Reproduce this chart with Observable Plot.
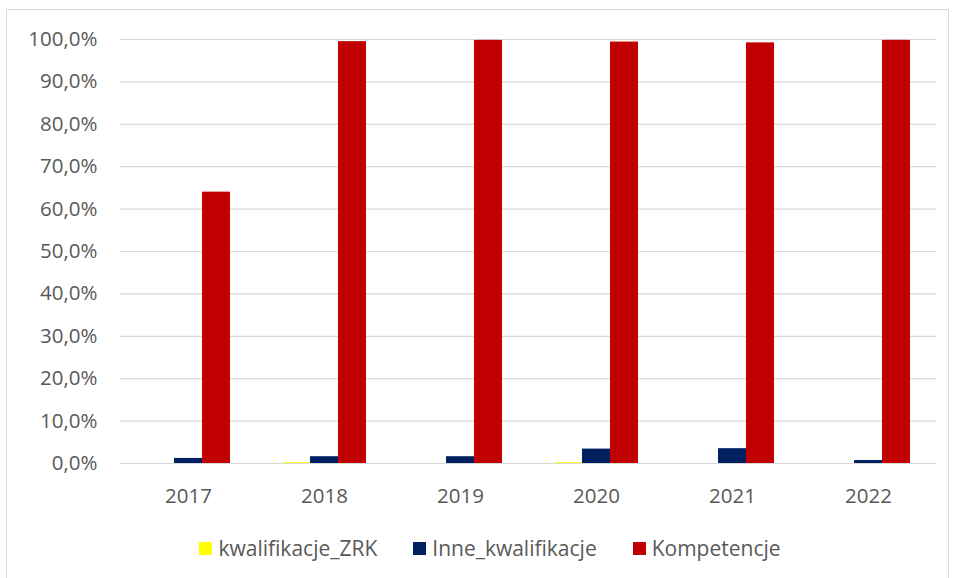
<!DOCTYPE html>
<html>
<head>
<meta charset="utf-8">
<script src="https://cdn.jsdelivr.net/npm/d3@7"></script>
<script src="https://cdn.jsdelivr.net/npm/@observablehq/plot@0.6"></script>
<style>
  html, body { margin: 0; padding: 0; background: #fff; }
  #wrap { position: relative; width: 954px; height: 578px; overflow: hidden; font-family: "Open Sans", sans-serif; }
  #frame { position: absolute; left: 6px; top: 9px; width: 943px; height: 600px; border: 1px solid #d9d9d9; box-sizing: border-box; }
  #chart { position: absolute; left: 0; top: 0; }
  #legend { position: absolute; top: 534px; left: 0; width: 980px; display: flex; justify-content: center; gap: 36px; font-size: 21px; color: #595959; line-height: 28px; }
  .item { display: flex; align-items: center; }
  .sw { width: 13px; height: 13px; margin-right: 6px; }
</style>
</head>
<body>
<div id="wrap">
  <div id="frame"></div>
  <div id="chart"></div>
  <div id="legend"></div>
</div>
<script>
const years = ["2017", "2018", "2019", "2020", "2021", "2022"];
const series = ["kwalifikacje_ZRK", "Inne_kwalifikacje", "Kompetencje"];
const colors = ["#FFFF00", "#002060", "#C00000"];
const kwalifikacjeZRK = [0.0, 0.2, 0.0, 0.2, 0.0, 0.0];
const inneKwalifikacje = [1.2, 1.6, 1.6, 3.4, 3.5, 0.7];
const kompetencje = [64.0, 99.5, 99.8, 99.4, 99.2, 99.8];
const yTicks = [0, 10, 20, 30, 40, 50, 60, 70, 80, 90, 100];

const values = [kwalifikacjeZRK, inneKwalifikacje, kompetencje];
const data = [];
years.forEach((y, i) => series.forEach((s, j) => data.push({year: y, series: s, value: values[j][i]})));

const fmt = d => d.toFixed(1).replace(".", ",") + "%";

const chart = Plot.plot({
  width: 954,
  height: 520,
  marginTop: 39,
  marginBottom: 57,
  marginLeft: 118,
  marginRight: 16,
  style: {fontFamily: "'Open Sans', sans-serif", fontSize: "20.5px", color: "#595959", background: "transparent"},
  fx: {domain: years, paddingInner: 0, paddingOuter: 0, axis: "bottom", tickSize: 0, tickPadding: 25, label: null},
  x: {domain: series, paddingInner: 0, paddingOuter: 0.9, axis: null},
  y: {domain: [0, 100], ticks: yTicks, tickSize: 0, tickPadding: 23, tickFormat: fmt, label: null},
  color: {domain: series, range: colors},
  marks: [
    Plot.ruleY(yTicks, {stroke: "#d9d9d9", strokeWidth: 1.2}),
    Plot.barY(data, {fx: "year", x: "series", y: "value", fill: "series"})
  ]
});
document.getElementById("chart").appendChild(chart);

const legend = document.getElementById("legend");
series.forEach((s, i) => {
  const it = document.createElement("div");
  it.className = "item";
  const sw = document.createElement("span");
  sw.className = "sw";
  sw.style.background = colors[i];
  const tx = document.createElement("span");
  tx.textContent = s;
  it.appendChild(sw);
  it.appendChild(tx);
  legend.appendChild(it);
});
</script>
</body>
</html>
